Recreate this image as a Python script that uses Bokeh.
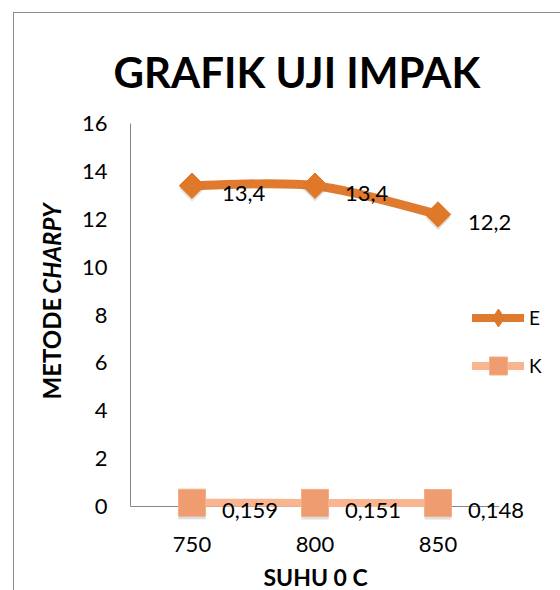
import numpy as np
from bokeh.plotting import figure
from bokeh.models import (ColumnDataSource, Range1d, FixedTicker, Legend,
                          LegendItem, Title, InlineStyleSheet)
from bokeh.transform import dodge
from bokeh.core.properties import value
from bokeh.embed import file_html
from bokeh.resources import INLINE

# ---------------- data ----------------
suhu = [750, 800, 850]
e_vals = [13.4, 13.4, 12.2]
k_vals = [0.159, 0.151, 0.148]
y_ticks = [0, 2, 4, 6, 8, 10, 12, 14, 16]
series_names = ["E", "K"]
title_text = "GRAFIK UJI IMPAK"
x_title = "SUHU 0 C"
y_title_a = "METODE "
y_title_b = "CHARPY"

# ---------------- layout (pixels) ----------------
W, H = 560, 590
FL, FR, FT, FB = 127, 556, 118, 528      # frame edges
AXL, AXR, AXT, AXB = 130, 499, 123, 506  # visible axis box
step = suhu[1] - suhu[0]
cat_lo, cat_hi = suhu[0] - step / 2, suhu[-1] + step / 2
ppx = (AXR - AXL) / (cat_hi - cat_lo)
ppy = (AXB - AXT) / (y_ticks[-1] - y_ticks[0])
X0 = cat_lo - (AXL - FL) / ppx
X1 = cat_hi + (FR - AXR) / ppx
Y0 = y_ticks[0] - (FB - AXB) / ppy
Y1 = y_ticks[-1] + (AXT - FT) / ppy

FONT = "Lato"
E_LINE = "#E07A2F"
E_MARK = "#E0782A"
K_LINE = "#F9B590"
K_MARK = "#EE9C70"
AX_COL = "#868686"

border_css = InlineStyleSheet(css="""
:host { position: relative; }
:host::after { content: ""; position: absolute; left: 13px; top: 12px;
  width: calc(100% - 13px); height: calc(100% - 12px); box-sizing: border-box;
  border-left: 1px solid #8c8c8c; border-top: 1px solid #8c8c8c; pointer-events: none; }
""")

p = figure(width=W, height=H, output_backend="svg", toolbar_location=None,
           x_range=Range1d(X0, X1), y_range=Range1d(Y0, Y1),
           min_border_left=FL, min_border_right=W - FR,
           min_border_top=FT, min_border_bottom=H - FB)
p.stylesheets = [border_css]
p.outline_line_color = None
p.grid.visible = False
p.background_fill_color = "white"
p.border_fill_color = "white"

for ax in (p.xaxis[0], p.yaxis[0]):
    ax.axis_line_color = None
    ax.major_tick_line_color = None
    ax.minor_tick_line_color = None
    ax.major_tick_out = 0
    ax.major_tick_in = 0
    ax.minor_tick_out = 0
    ax.major_label_text_font = FONT
    ax.major_label_text_font_size = "22px"
    ax.major_label_text_color = "black"

p.xaxis.ticker = FixedTicker(ticks=suhu)
p.yaxis.ticker = FixedTicker(ticks=y_ticks)
p.xaxis.major_label_standoff = 8
p.yaxis.major_label_standoff = 20

# axis lines (L shape) drawn in data space
p.segment(x0=[cat_lo, cat_lo], y0=[y_ticks[0], y_ticks[0]],
          x1=[cat_lo, cat_hi], y1=[y_ticks[-1], y_ticks[0]],
          line_color=AX_COL, line_width=1)


def smooth_segments(xs, ys):
    """Catmull-Rom style bezier control points (Excel smoothed line)."""
    pts = list(zip(xs, ys))
    n = len(pts)
    out = dict(x0=[], y0=[], x1=[], y1=[], cx0=[], cy0=[], cx1=[], cy1=[])
    for i in range(n - 1):
        p0 = pts[i - 1] if i > 0 else pts[i]
        p1 = pts[i]
        p2 = pts[i + 1]
        p3 = pts[i + 2] if i + 2 < n else pts[i + 1]
        out["x0"].append(p1[0]); out["y0"].append(p1[1])
        out["x1"].append(p2[0]); out["y1"].append(p2[1])
        out["cx0"].append(p1[0] + (p2[0] - p0[0]) / 6)
        out["cy0"].append(p1[1] + (p2[1] - p0[1]) / 6)
        out["cx1"].append(p2[0] - (p3[0] - p1[0]) / 6)
        out["cy1"].append(p2[1] - (p3[1] - p1[1]) / 6)
    return ColumnDataSource(out)


def fmt(v):
    return str(v).replace(".", ",")

shadow_y = dodge("y", -3 / ppy, range=p.y_range)

# K series
p.bezier(x0="x0", y0="y0", x1="x1", y1="y1", cx0="cx0", cy0="cy0", cx1="cx1", cy1="cy1",
         source=smooth_segments(suhu, k_vals), line_color=K_LINE, line_width=8, line_cap="round")
k_src = ColumnDataSource(dict(x=suhu, y=k_vals, lab=[fmt(v) for v in k_vals]))
p.scatter("x", shadow_y, source=k_src, marker="square", size=27,
          fill_color="#7a7a7a", fill_alpha=0.25, line_color=None)
p.scatter("x", "y", source=k_src, marker="square", size=27,
          fill_color=K_MARK, line_color="#F3AE86", line_width=1)
p.text("x", "y", text="lab", source=k_src, x_offset=30, y_offset=8,
       text_font=value(FONT), text_font_size="22px", text_baseline="middle",
       text_color="black")

# E series
p.bezier(x0="x0", y0="y0", x1="x1", y1="y1", cx0="cx0", cy0="cy0", cx1="cx1", cy1="cy1",
         source=smooth_segments(suhu, e_vals), line_color=E_LINE, line_width=9, line_cap="round")
e_src = ColumnDataSource(dict(x=suhu, y=e_vals, lab=[fmt(v) for v in e_vals]))
p.scatter("x", shadow_y, source=e_src, marker="square", angle=np.pi / 4, size=18,
          fill_color="#7a7a7a", fill_alpha=0.22, line_color=None)
p.scatter("x", "y", source=e_src, marker="square", angle=np.pi / 4, size=18,
          fill_color=E_MARK, line_color=E_MARK, line_width=1)
p.text("x", "y", text="lab", source=e_src, x_offset=30, y_offset=8,
       text_font=value(FONT), text_font_size="22px", text_baseline="middle",
       text_color="black")

# legend proxies (not visible in the plot: NaN positions)
nan_src = ColumnDataSource(dict(x=[np.nan, np.nan], y=[np.nan, np.nan]))
e_leg_line = p.line("x", "y", source=nan_src, line_color=E_LINE, line_width=8, line_cap="round")
e_leg_mark = p.scatter("x", "y", source=nan_src, marker="diamond", fill_color=E_MARK,
                       line_color=E_MARK)
k_leg_line = p.line("x", "y", source=nan_src, line_color=K_LINE, line_width=8, line_cap="round")
k_leg_mark = p.scatter("x", "y", source=nan_src, marker="square", fill_color=K_MARK,
                       line_color="#F3AE86")
legend = Legend(items=[LegendItem(label=series_names[0], renderers=[e_leg_line, e_leg_mark]),
                       LegendItem(label=series_names[1], renderers=[k_leg_line, k_leg_mark])],
                location=(472 - FL, FB - 388), orientation="vertical",
                glyph_width=52, glyph_height=45, label_height=45, spacing=3,
                padding=0, margin=0, label_standoff=5,
                border_line_color=None, background_fill_alpha=0,
                label_text_font=FONT, label_text_font_size="19px",
                label_text_color="black")
p.add_layout(legend, "center")

# chart title
p.add_layout(Title(text=title_text, align="left", offset=113 - FL, standoff=44,
                   text_font=FONT, text_font_style="bold", text_font_size="42px",
                   text_color="black"), "above")
# x axis title
p.add_layout(Title(text=x_title, align="left", offset=263 - FL, vertical_align="bottom",
                   standoff=-72, text_font=FONT, text_font_style="bold",
                   text_font_size="23px", text_color="black"), "below")
# y axis title, two parts (bold + bold italic) sharing one column
p.add_layout(Title(text=y_title_a, align="left", offset=FB - 399, vertical_align="top",
                   standoff=-83, text_font=FONT, text_font_style="bold",
                   text_font_size="24px", text_color="black"), "left")
p.add_layout(Title(text=y_title_b, align="right", offset=203 - FT, vertical_align="top",
                   standoff=-83, text_font=FONT, text_font_style="bold italic",
                   text_font_size="24px", text_color="black"), "left")

open("out.html", "w").write(file_html(p, INLINE))
